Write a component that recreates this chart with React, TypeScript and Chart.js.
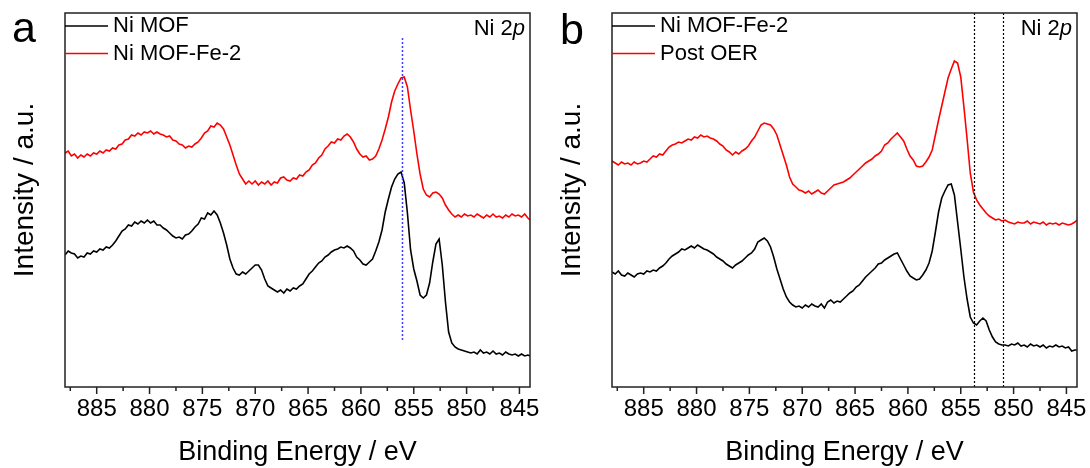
import React, { useEffect, useRef } from 'react';
import { Chart, registerables } from 'chart.js';

Chart.register(...registerables);

// ---------- axis ----------
const X_MIN = 844;
const X_MAX = 888;
const Y_MIN = 0;
const Y_MAX = 374;
const majorTicks = [885, 880, 875, 870, 865, 860, 855, 850, 845];
const minorTicks = [887.5, 882.5, 877.5, 872.5, 867.5, 862.5, 857.5, 852.5, 847.5];
const xTitle = 'Binding Energy / eV';
const yTitle = 'Intensity / a.u.';

// ---------- binding-energy grid (eV), shared by all spectra ----------
const energy = [
  888.0, 887.7, 887.4, 887.1, 886.8, 886.5, 886.2, 885.9, 885.6, 885.3,
  885.0, 884.7, 884.4, 884.1, 883.8, 883.5, 883.2, 882.9, 882.6, 882.3,
  882.0, 881.7, 881.4, 881.1, 880.8, 880.5, 880.2, 879.9, 879.6, 879.3,
  879.0, 878.7, 878.4, 878.1, 877.8, 877.5, 877.2, 876.9, 876.6, 876.3,
  876.0, 875.7, 875.4, 875.1, 874.8, 874.5, 874.2, 873.9, 873.6, 873.3,
  873.0, 872.7, 872.4, 872.1, 871.8, 871.5, 871.2, 870.9, 870.6, 870.3,
  870.0, 869.7, 869.4, 869.1, 868.8, 868.5, 868.2, 867.9, 867.6, 867.3,
  867.0, 866.7, 866.4, 866.1, 865.8, 865.5, 865.2, 864.9, 864.6, 864.3,
  864.0, 863.7, 863.4, 863.1, 862.8, 862.5, 862.2, 861.9, 861.6, 861.3,
  861.0, 860.7, 860.4, 860.1, 859.8, 859.5, 859.2, 858.9, 858.6, 858.3,
  858.0, 857.7, 857.4, 857.1, 856.8, 856.5, 856.2, 855.9, 855.6, 855.3,
  855.0, 854.7, 854.4, 854.1, 853.8, 853.5, 853.2, 852.9, 852.6, 852.3,
  852.0, 851.7, 851.4, 851.1, 850.8, 850.5, 850.2, 849.9, 849.6, 849.3,
  849.0, 848.7, 848.4, 848.1, 847.8, 847.5, 847.2, 846.9, 846.6, 846.3,
  846.0, 845.7, 845.4, 845.1, 844.8, 844.5, 844.2, 844.0,
];

// ---------- panel a ----------
const aNiMof = [
  132, 136, 134, 133, 129, 131, 130, 134, 133, 136,
  135, 138, 137, 140, 139, 142, 146, 151, 156, 158,
  162, 161, 165, 163, 166, 164, 167, 164, 166, 162,
  162, 159, 157, 154, 151, 149, 150, 148, 152, 153,
  156, 160, 163, 169, 168, 174, 172, 176, 172, 164,
  154, 142, 128, 119, 113, 112, 115, 113, 116, 119,
  122, 122, 117, 108, 101, 99, 97, 95, 97, 94,
  98, 96, 99, 98, 101, 103, 108, 113, 116, 120,
  124, 126, 130, 132, 135, 137, 138, 140, 139, 141,
  139, 136, 130, 127, 123, 122, 125, 128, 136, 145,
  157, 175, 188, 200, 208, 213, 215, 204, 174, 137,
  118, 106, 92, 89, 92, 104, 125, 143, 148, 122,
  85, 55, 44, 40, 38, 37, 36, 35, 34, 35,
  33, 37, 34, 35, 33, 36, 33, 34, 32, 35,
  33, 32, 33, 31, 33, 31, 32, 31,
];
const aNiMofFe2 = [
  234, 236, 231, 233, 229, 232, 230, 233, 231, 234,
  233, 236, 234, 237, 236, 239, 238, 242, 243, 247,
  248, 252, 251, 254, 252, 255, 254, 256, 253, 255,
  253, 252, 250, 251, 247, 246, 243, 242, 239, 241,
  240, 243, 245, 249, 254, 256, 261, 260, 264, 262,
  258, 250, 242, 232, 222, 213, 208, 203, 206, 203,
  206, 202, 205, 203, 206, 202, 205, 204, 209, 210,
  207, 206, 209, 208, 212, 211, 215, 217, 222, 224,
  229, 232, 238, 241, 245, 244, 248, 247, 251, 253,
  250, 245, 238, 233, 230, 231, 227, 228, 231, 238,
  247, 258, 270, 285, 296, 303, 309, 310, 300, 277,
  256, 233, 213, 198, 192, 190, 194, 195, 193, 189,
  182, 177, 173, 170, 172, 170, 173, 171, 172, 170,
  173, 171, 169, 172, 170, 173, 170, 171, 169, 172,
  170, 173, 171, 172, 170, 173, 169, 167,
];

// ---------- panel b ----------
const bNiMofFe2 = [
  115, 113, 116, 112, 111, 114, 112, 110, 113, 114,
  113, 116, 115, 117, 116, 119, 121, 124, 128, 131,
  133, 135, 138, 137, 139, 141, 139, 142, 140, 138,
  137, 135, 133, 130, 128, 126, 123, 121, 119, 122,
  124, 126, 129, 132, 134, 138, 145, 147, 149, 146,
  140, 130, 118, 108, 98, 90, 85, 82, 80, 81,
  79, 82, 80, 83, 81, 80, 83, 79, 85, 87,
  84, 86, 85, 88, 91, 94, 96, 100, 102, 106,
  110, 113, 116, 119, 123, 124, 127, 129, 131, 133,
  134, 128, 122, 116, 111, 109, 107, 108, 112, 117,
  124, 136, 155, 175, 189, 196, 202, 203, 192, 165,
  138, 110, 88, 70, 64, 62, 66, 69, 66, 57,
  50, 45, 43, 42, 42, 41, 43, 42, 44, 41,
  42, 40, 43, 41, 42, 40, 42, 39, 41, 40,
  42, 40, 41, 39, 40, 36, 37, 37,
];
const bPostOer = [
  226, 224, 222, 225, 223, 224, 222, 225, 223, 224,
  226, 225, 228, 231, 230, 233, 232, 236, 240, 242,
  243, 245, 244, 246, 248, 247, 250, 249, 252, 250,
  251, 249, 248, 246, 243, 241, 237, 235, 232, 235,
  233, 236, 238, 241, 246, 250, 256, 262, 264, 263,
  262, 258, 252, 242, 232, 222, 210, 203, 200, 197,
  196, 194, 196, 193, 195, 197, 194, 193, 196, 199,
  202, 203, 204, 205, 207, 209, 212, 215, 218, 221,
  224, 226, 228, 231, 233, 236, 242, 244, 248, 251,
  254, 250, 246, 238, 231, 227, 221, 220, 221, 225,
  230, 237, 252, 267, 281, 295, 309, 318, 326, 324,
  310, 280, 248, 214, 195, 187, 182, 178, 174, 171,
  169, 167, 168, 166, 167, 165, 164, 163, 165, 164,
  164, 166, 163, 165, 164, 163, 165, 162, 164, 163,
  164, 162, 164, 163, 162, 163, 165, 167,
];

const FONT = '"Liberation Sans", Arial, Helvetica, sans-serif';

type Series = { label: string; color: string; v: number[] };
type RefLine = { x: number; from: number; to: number; color: string; width: number };
type PanelCfg = {
  letter: string;
  letterX: number;
  letterBaseline: number;
  padLeft: number;
  padRight: number;
  series: Series[];
  refLines: RefLine[];
};

const panelA: PanelCfg = {
  letter: 'a',
  letterX: 12,
  letterBaseline: 42,
  padLeft: 65,
  padRight: 15,
  series: [
    { label: 'Ni MOF', color: '#000000', v: aNiMof },
    { label: 'Ni MOF-Fe-2', color: '#ff0000', v: aNiMofFe2 },
  ],
  refLines: [{ x: 856.1, from: 45, to: 349, color: '#3b3bff', width: 1.5 }],
};

const panelB: PanelCfg = {
  letter: 'b',
  letterX: 15,
  letterBaseline: 44,
  padLeft: 67,
  padRight: 13,
  series: [
    { label: 'Ni MOF-Fe-2', color: '#000000', v: bNiMofFe2 },
    { label: 'Post OER', color: '#ff0000', v: bPostOer },
  ],
  refLines: [
    { x: 853.7, from: Y_MIN, to: Y_MAX, color: '#000000', width: 1.2 },
    { x: 851.0, from: Y_MIN, to: Y_MAX, color: '#000000', width: 1.2 },
  ],
};

function Panel({ cfg, left }: { cfg: PanelCfg; left: number }) {
  const ref = useRef<HTMLCanvasElement | null>(null);

  useEffect(() => {
    const canvas = ref.current;
    if (!canvas) return;

    const overlay = {
      id: 'overlay',
      afterDatasetsDraw(chart: any) {
        const { ctx, scales } = chart;
        const x = scales.x;
        const y = scales.y;
        ctx.save();
        for (const r of cfg.refLines) {
          const px = Math.round(x.getPixelForValue(r.x)) + 0.5;
          ctx.beginPath();
          ctx.setLineDash([2, 2]);
          ctx.strokeStyle = r.color;
          ctx.lineWidth = r.width;
          ctx.moveTo(px, y.getPixelForValue(r.to));
          ctx.lineTo(px, y.getPixelForValue(r.from));
          ctx.stroke();
        }
        ctx.restore();
      },
      afterDraw(chart: any) {
        const { ctx, chartArea: ca, scales } = chart;
        const x = scales.x;
        ctx.save();
        ctx.setLineDash([]);
        // frame
        ctx.strokeStyle = '#222222';
        ctx.lineWidth = 1.5;
        ctx.strokeRect(ca.left, ca.top, ca.right - ca.left, ca.bottom - ca.top);
        // ticks
        ctx.beginPath();
        for (const t of majorTicks) {
          const px = x.getPixelForValue(t);
          ctx.moveTo(px, ca.bottom);
          ctx.lineTo(px, ca.bottom + 7);
        }
        for (const t of minorTicks) {
          const px = x.getPixelForValue(t);
          ctx.moveTo(px, ca.bottom);
          ctx.lineTo(px, ca.bottom + 4);
        }
        ctx.stroke();

        ctx.fillStyle = '#000000';
        // legend
        ctx.font = `22px ${FONT}`;
        ctx.textBaseline = 'middle';
        ctx.textAlign = 'left';
        cfg.series.forEach((s, i) => {
          const yy = ca.top + 13 + i * 27.5;
          ctx.beginPath();
          ctx.strokeStyle = s.color;
          ctx.lineWidth = 1.5;
          ctx.moveTo(ca.left, yy);
          ctx.lineTo(ca.left + 43, yy);
          ctx.stroke();
          ctx.fillText(s.label, ca.left + 48, yy);
        });

        // Ni 2p annotation
        const main = 'Ni 2';
        ctx.font = `italic 22px ${FONT}`;
        const wp = ctx.measureText('p').width;
        ctx.font = `22px ${FONT}`;
        const wm = ctx.measureText(main).width;
        const endX = ca.right - 5;
        const ay = ca.top + 16;
        ctx.fillText(main, endX - wp - wm, ay);
        ctx.font = `italic 22px ${FONT}`;
        ctx.fillText('p', endX - wp, ay);

        // axis titles
        ctx.font = `27px ${FONT}`;
        ctx.textAlign = 'center';
        ctx.textBaseline = 'alphabetic';
        ctx.fillText(xTitle, (ca.left + ca.right) / 2, 460);

        ctx.save();
        ctx.translate(ca.left - 40, 190);
        ctx.rotate(-Math.PI / 2);
        ctx.font = `28px ${FONT}`;
        ctx.textBaseline = 'middle';
        ctx.fillText(yTitle, 0, 0);
        ctx.restore();

        // panel letter
        ctx.font = `43px ${FONT}`;
        ctx.textAlign = 'left';
        ctx.textBaseline = 'alphabetic';
        ctx.fillText(cfg.letter, cfg.letterX, cfg.letterBaseline);
        ctx.restore();
      },
    };

    const chart = new Chart(canvas, {
      type: 'line',
      data: {
        datasets: cfg.series.map((s) => ({
          label: s.label,
          data: energy.map((e, i) => ({ x: e, y: s.v[i] })),
          borderColor: s.color,
          backgroundColor: s.color,
          borderWidth: 1.6,
          pointRadius: 0,
          tension: 0,
          fill: false,
        })),
      },
      options: {
        animation: false,
        responsive: false,
        maintainAspectRatio: false,
        events: [],
        layout: { padding: { left: cfg.padLeft, right: cfg.padRight, top: 13, bottom: 0 } },
        plugins: {
          legend: { display: false },
          tooltip: { enabled: false },
          title: { display: false },
        },
        scales: {
          x: {
            type: 'linear',
            min: X_MIN,
            max: X_MAX,
            reverse: true,
            grid: { display: false, drawTicks: true, tickLength: 7 },
            border: { display: false },
            afterBuildTicks: (scale: any) => {
              scale.ticks = majorTicks.map((v) => ({ value: v }));
            },
            afterFit: (scale: any) => {
              scale.height = 81;
            },
            ticks: {
              autoSkip: false,
              maxRotation: 0,
              padding: 1,
              color: '#000000',
              font: { family: FONT, size: 24 },
              callback: (v: any) => String(v),
            },
          },
          y: {
            type: 'linear',
            min: Y_MIN,
            max: Y_MAX,
            display: false,
          },
        },
      },
      plugins: [overlay],
    });

    return () => chart.destroy();
  }, [cfg]);

  return (
    <canvas
      ref={ref}
      width={545}
      height={468}
      style={{ position: 'absolute', left, top: 0, width: 545, height: 468 }}
    />
  );
}

export default function App() {
  return (
    <div style={{ position: 'absolute', left: 0, top: 0, width: 1090, height: 468, background: '#ffffff' }}>
      <Panel cfg={panelA} left={0} />
      <Panel cfg={panelB} left={545} />
    </div>
  );
}
